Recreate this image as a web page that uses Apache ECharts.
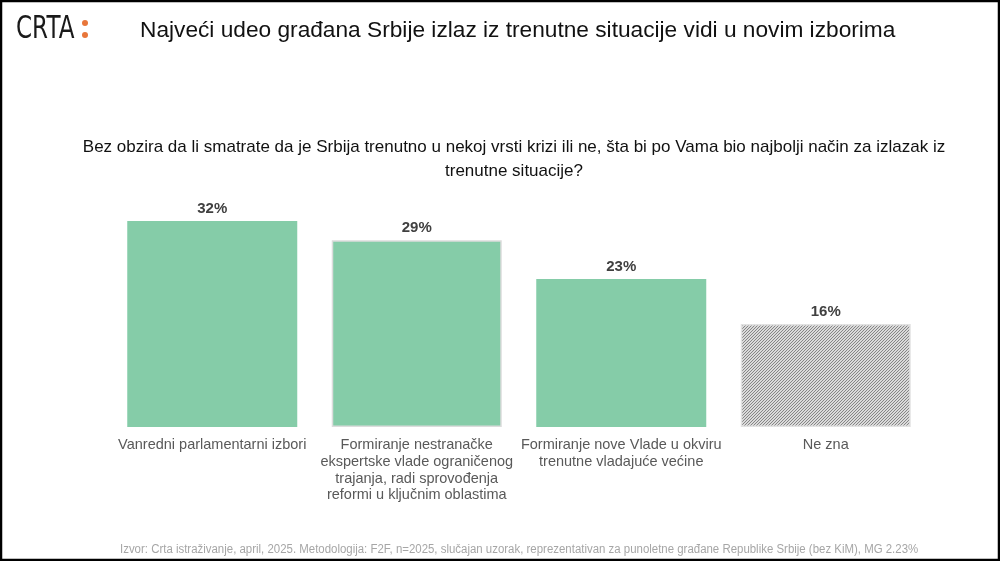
<!DOCTYPE html>
<html><head><meta charset="utf-8">
<script src="https://cdn.jsdelivr.net/npm/echarts@6/dist/echarts.min.js"></script>
<style>html,body{margin:0;padding:0;background:#fff}#c{width:1000px;height:561px}</style>
</head><body><div id="c"></div>
<script>
const categories = [
  'Vanredni parlamentarni izbori',
  'Formiranje nestranačke\nekspertske vlade ograničenog\ntrajanja, radi sprovođenja\nreformi u ključnim oblastima',
  'Formiranje nove Vlade u okviru\ntrenutne vladajuće većine',
  'Ne zna'
];
const values = [32, 29, 23, 16];
const titleText = 'Najveći udeo građana Srbije izlaz iz trenutne situacije vidi u novim izborima';
const questionText = 'Bez obzira da li smatrate da je Srbija trenutno u nekoj vrsti krizi ili ne, šta bi po Vama bio najbolji način za izlazak iz\ntrenutne situacije?';
const sourceText = 'Izvor: Crta istraživanje, april, 2025. Metodologija: F2F, n=2025, slučajan uzorak, reprezentativan za punoletne građane Republike Srbije (bez KiM), MG 2.23%';

// hatch pattern
const pc = document.createElement('canvas');
pc.width = 3; pc.height = 3;
const ctx = pc.getContext('2d');
ctx.fillStyle = '#dadada'; ctx.fillRect(0,0,3,3);
ctx.fillStyle = '#858585';
for (let i = 0; i < 3; i++) { ctx.fillRect((2 - i), i, 1, 1); }

const green = '#85cca8';
const data = values.map((v, i) => {
  if (i === 3) return { value: v, itemStyle: { color: { image: pc, repeat: 'repeat' }, borderColor: '#e2e2e2', borderWidth: 1.5 } };
  if (i === 1) return { value: v, itemStyle: { color: green, borderColor: '#dcdcdc', borderWidth: 1.5 } };
  return { value: v, itemStyle: { color: green } };
});

const chart = echarts.init(document.getElementById('c'), null, { renderer: 'canvas' });
chart.setOption({
  animation: false,
  backgroundColor: '#fff',
  grid: { left: 110, right: 72, top: 221, bottom: 134 },
  xAxis: {
    type: 'category', data: categories,
    axisLine: { show: false }, axisTick: { show: false },
    axisLabel: { color: '#595959', fontFamily: 'Liberation Sans, Arial', fontSize: 14.5, lineHeight: 16.7, margin: 10, interval: 0 }
  },
  yAxis: { type: 'value', min: 0, max: 32, show: false, splitLine: { show: false } },
  series: [{
    type: 'bar', data: data, barWidth: 170,
    label: { show: true, position: 'top', formatter: '{c}%', color: '#404040', fontFamily: 'Liberation Sans, Arial', fontWeight: 'bold', fontSize: 15, distance: 5 }
  }],
  graphic: [
    { type: 'rect', silent: true, shape: { x: 1, y: 1, width: 998, height: 559 }, style: { fill: 'none', stroke: '#000', lineWidth: 2.5 }, z: 100 },
    { type: 'text', x: 16, y: 14, scaleX: 0.72, style: { text: 'CRTA', fill: '#1a1a1a', font: 'normal 32px "DejaVu Sans"' } },
    { type: 'circle', shape: { cx: 85, cy: 23, r: 3 }, style: { fill: '#e8763a' } },
    { type: 'circle', shape: { cx: 85, cy: 35, r: 3 }, style: { fill: '#e8763a' } },
    { type: 'text', x: 140, y: 19, style: { text: titleText, fill: '#111', font: '22.7px "Liberation Sans", Arial' } },
    { type: 'text', x: 514, y: 135, style: { text: questionText, fill: '#111', font: '17px "Liberation Sans", Arial', align: 'center', lineHeight: 24 } },
    { type: 'text', x: 120, y: 543, scaleX: 0.915, style: { text: sourceText, fill: '#a6a6a6', font: '12.5px "Liberation Sans", Arial' } }
  ]
});
</script></body></html>
